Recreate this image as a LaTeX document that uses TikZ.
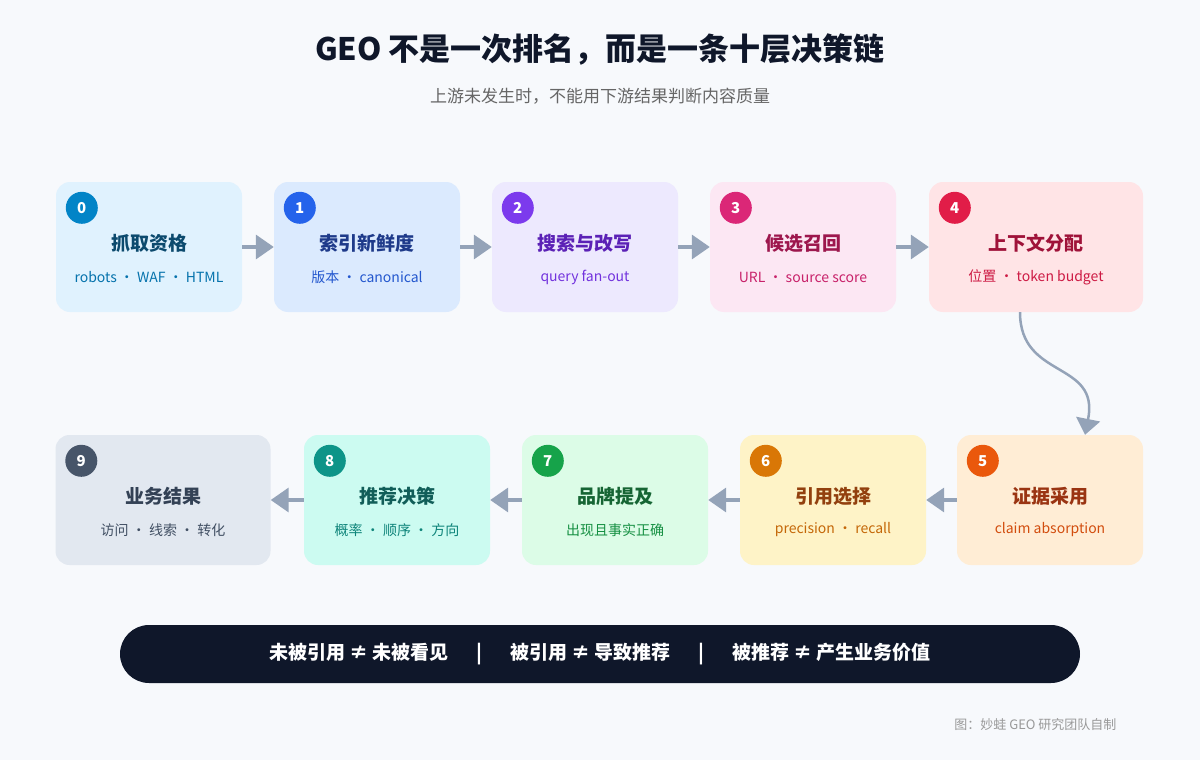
\documentclass[tikz,border=0pt]{standalone}
\usepackage{fontspec}
\setmainfont{Noto Sans CJK SC}
\usetikzlibrary{arrows.meta}
\usetikzlibrary{positioning}
\definecolor{bgc}{HTML}{F7F9FC}
\definecolor{grayarr}{HTML}{94A3B8}
\definecolor{ink}{HTML}{0F172A}
\begin{document}
\begin{tikzpicture}[x=1pt,y=-1pt]
	\tikzset{StepStyle/.style = {rounded corners=14pt, minimum height=130pt, inner sep=0pt},
		NumStyle/.style = {circle, minimum size=32pt, inner sep=0pt, text=white, font=\fontsize{15}{15}\selectfont\bfseries},
		FlowStyle/.style = {draw=grayarr, line width=3.5pt, -{Triangle[length=18pt,width=24pt]}}}
	\fill[bgc] (0,0) rectangle (1200,760);
	\node[font=\fontsize{31}{34}\selectfont\bfseries, text=ink] (title) at (600,50) {GEO 不是一次排名，而是一条十层决策链};
	\node[font=\fontsize{17}{20}\selectfont, text=gray!80!black] (sub) at (600,96) {上游未发生时，不能用下游结果判断内容质量};
	% steps: x-center, y-center, width, name, fill, accent, title, detail
	\foreach \i/\cx/\cy/\w/\fc/\ac/\tc/\ttl/\dtl in {
		0/149/247/186/E0F2FE/0284C7/0C4A6E/抓取资格/robots · WAF · HTML,
		1/367/247/186/DBEAFE/2563EB/1E3A8A/索引新鲜度/版本 · canonical,
		2/585/247/186/EDE9FE/7C3AED/5B21B6/搜索与改写/query fan-out,
		3/803/247/186/FCE7F3/DB2777/9D174D/候选召回/URL · source score,
		4/1036/247/214/FFE4E6/E11D48/9F1239/上下文分配/位置 · token budget,
		5/1050/500/186/FFEDD5/EA580C/9A3412/证据采用/claim absorption,
		6/833/500/186/FEF3C7/D97706/92400E/引用选择/precision · recall,
		7/615/500/186/DCFCE7/16A34A/166534/品牌提及/出现且事实正确,
		8/397/500/186/CCFBF1/0D9488/115E59/推荐决策/概率 · 顺序 · 方向,
		9/163/500/215/E2E8F0/475569/334155/业务结果/访问 · 线索 · 转化}{
		\definecolor{fc\i}{HTML}{\fc}\definecolor{ac\i}{HTML}{\ac}\definecolor{tc\i}{HTML}{\tc}
		\node[StepStyle, fill=fc\i, minimum width=\w pt] (s\i) at (\cx,\cy) {};
		\node[NumStyle, fill=ac\i, anchor=center] (n\i) at ([xshift=26pt,yshift=-26pt]s\i.north west) {\i};
		\node[font=\fontsize{19}{22}\selectfont\bfseries, text=tc\i] (t\i) at (\cx,\cy-4) {\ttl};
		\node[font=\fontsize{14}{16}\selectfont, text=ac\i!70!tc\i] (d\i) at (\cx,\cy+30) {\dtl};
	}
	\foreach \a/\b in {0/1,1/2,2/3,3/4,5/6,6/7,7/8,8/9}
		\draw[FlowStyle] (s\a) -- (s\b);
	\draw[grayarr, line width=2.5pt, -{Triangle[length=16pt,width=24pt]}] (s4.south) ++(-16,0) coordinate (c4)
		.. controls (1020,380) and (1100,360) .. ([xshift=35pt]s5.north);
	\node[fill=ink, rounded corners=29pt, minimum width=960pt, minimum height=58pt, text=white,
		font=\fontsize{19}{22}\selectfont\bfseries] (banner) at (600,654)
		{未被引用 ≠ 未被看见\quad\ \ |\quad\ \ 被引用 ≠ 导致推荐\quad\ \ |\quad\ \ 被推荐 ≠ 产生业务价值};
	\node[anchor=east, font=\fontsize{13}{15}\selectfont, text=gray!80] (credit) at (1120,725) {图：妙蛙 GEO 研究团队自制};
\end{tikzpicture}
\end{document}
